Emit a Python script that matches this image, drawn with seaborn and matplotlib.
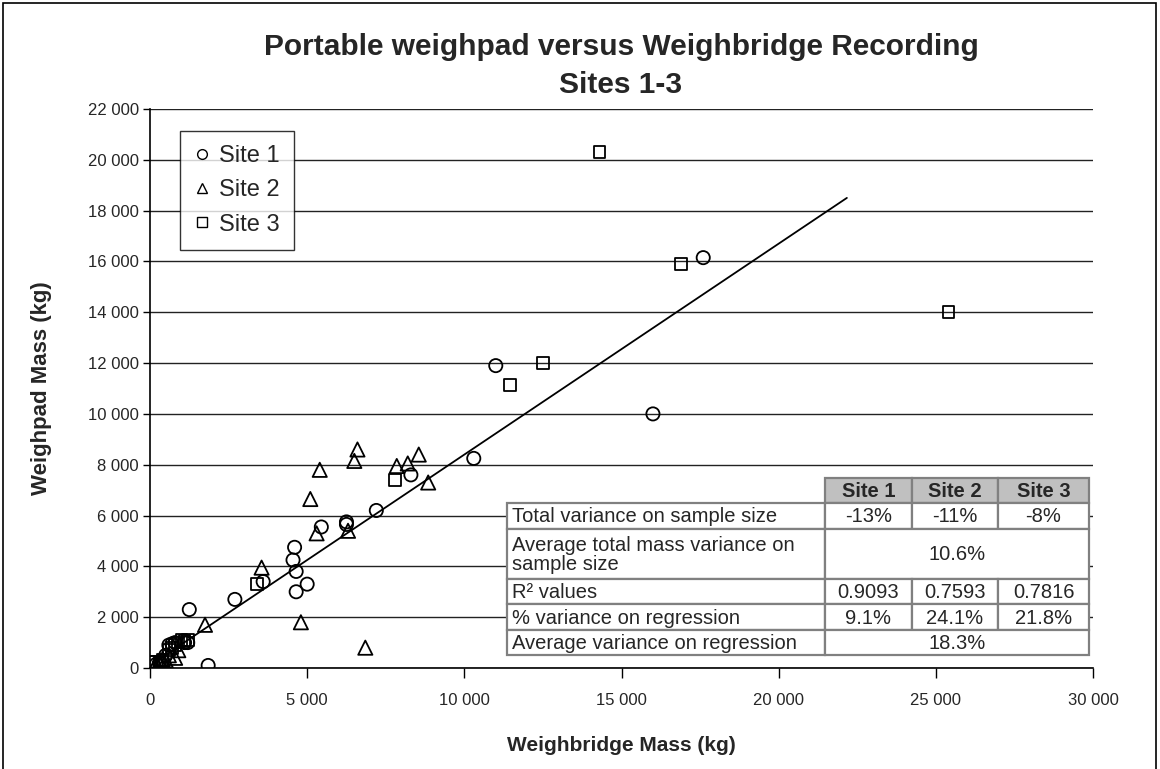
import numpy as np
import pandas as pd
import matplotlib
matplotlib.use("Agg")
import matplotlib.pyplot as plt
import seaborn as sns
from matplotlib.ticker import FuncFormatter, MultipleLocator
from matplotlib.patches import Rectangle
from matplotlib.lines import Line2D

# ---------------- data ----------------
site1_x = [17600, 11000, 16000, 10300, 8300, 7200, 5450, 6250, 6250, 4600, 4550, 4650,
           5000, 4650, 3600, 2700, 1250, 1850, 1200, 1100, 800, 700, 600, 500, 400, 300, 200]
site1_y = [16150, 11900, 10000, 8250, 7600, 6200, 5550, 5750, 5650, 4750, 4250, 3800,
           3300, 3000, 3400, 2700, 2300, 100, 1000, 1000, 1000, 950, 900, 500, 300, 200, 150]

site2_x = [6600, 6500, 5400, 5100, 7850, 8200, 8550, 8850, 5300, 6300, 3550, 1750, 4800,
           6850, 900, 800, 600, 500, 400, 300, 200]
site2_y = [8600, 8150, 7800, 6650, 7950, 8050, 8400, 7300, 5300, 5400, 3950, 1700, 1800,
           800, 700, 400, 500, 300, 350, 250, 200]

site3_x = [14300, 16900, 25400, 12500, 11450, 7800, 3400, 1200, 1100, 1000, 900, 800, 700,
           600, 400, 300, 100, 0]
site3_y = [20300, 15900, 14000, 12000, 11130, 7400, 3300, 1100, 1050, 1100, 1000, 900, 800,
           700, 300, 250, 250, 250]

site_names = ["Site 1", "Site 2", "Site 3"]
site_markers = ["o", "^", "s"]

trend_x = [150, 22170]
trend_slope = 0.83
trend_intercept = 100

title_lines = ["Portable weighpad versus Weighbridge Recording", "Sites 1-3"]
x_label = "Weighbridge Mass (kg)"
y_label = "Weighpad Mass (kg)"

table_header = ["Site 1", "Site 2", "Site 3"]
row_labels = ["Total variance on sample size",
              "Average total mass variance on\nsample size",
              "R\u00b2 values",
              "% variance on regression",
              "Average variance on regression"]
row_total_var = ["-13%", "-11%", "-8%"]
row_avg_total = "10.6%"
row_r2 = ["0.9093", "0.7593", "0.7816"]
row_pct_reg = ["9.1%", "24.1%", "21.8%"]
row_avg_reg = "18.3%"

# ---------------- build frame ----------------
df = pd.concat([
    pd.DataFrame({"x": site1_x, "y": site1_y, "site": "Site 1"}),
    pd.DataFrame({"x": site2_x, "y": site2_y, "site": "Site 2"}),
    pd.DataFrame({"x": site3_x, "y": site3_y, "site": "Site 3"}),
], ignore_index=True)

trend_df = pd.DataFrame({"x": trend_x,
                         "y": [trend_slope * v + trend_intercept for v in trend_x]})

# ---------------- style ----------------
sns.set_style("white")
plt.rcParams["font.family"] = ["Liberation Sans", "DejaVu Sans"]

W, H = 1160, 769
fig = plt.figure(figsize=(W / 100, H / 100), dpi=100)
fig.patch.set_facecolor("white")

ax_l, ax_r, ax_t, ax_b = 150, 1093, 109, 668
ax = fig.add_axes([ax_l / W, 1 - ax_b / H, (ax_r - ax_l) / W, (ax_b - ax_t) / H])

sizes = {"Site 1": 90, "Site 2": 105, "Site 3": 72}
for name, mk in zip(site_names, site_markers):
    sub = df[df["site"] == name]
    sns.scatterplot(data=sub, x="x", y="y", marker=mk, s=sizes[name],
                    facecolors="none", edgecolor="black", linewidth=1.3,
                    ax=ax, legend=False, zorder=3)

sns.lineplot(data=trend_df, x="x", y="y", color="black", linewidth=1.3,
             ax=ax, legend=False, zorder=2)

ax.set_xlim(0, 30000)
ax.set_ylim(0, 22000)
ax.xaxis.set_major_locator(MultipleLocator(5000))
ax.yaxis.set_major_locator(MultipleLocator(2000))
fmt = FuncFormatter(lambda v, p: f"{int(v):,}".replace(",", " "))
ax.xaxis.set_major_formatter(fmt)
ax.yaxis.set_major_formatter(fmt)

ax.grid(axis="y", color="#222222", linewidth=1.0)
ax.grid(axis="x", visible=False)
ax.set_axisbelow(True)
for s in ["top", "right"]:
    ax.spines[s].set_visible(False)
for s in ["left", "bottom"]:
    ax.spines[s].set_color("black")
    ax.spines[s].set_linewidth(1.2)

ax.tick_params(axis="x", direction="out", length=7, width=1, color="black",
               labelsize=12, pad=11, bottom=True)
ax.tick_params(axis="y", direction="out", length=5, width=1, color="black",
               labelsize=12, pad=3, left=True)

ax.set_xlabel(x_label, fontsize=15, fontweight="bold", labelpad=20)
ax.set_ylabel(y_label, fontsize=16, fontweight="bold", labelpad=26)

fig.text(621 / W, 1 - 47 / H, title_lines[0], ha="center", va="center",
         fontsize=21.5, fontweight="bold")
fig.text(621 / W, 1 - 85 / H, title_lines[1], ha="center", va="center",
         fontsize=21.5, fontweight="bold")

# legend
handles = [Line2D([], [], marker=m, linestyle="", markerfacecolor="none",
                  markeredgecolor="black", markersize=7, markeredgewidth=1)
           for m in site_markers]
leg = ax.legend(handles, site_names, loc="upper left",
                bbox_to_anchor=((180 - ax_l) / (ax_r - ax_l), (ax_b - 131) / (ax_b - ax_t)),
                borderaxespad=0, frameon=True, fancybox=False, fontsize=17,
                handlelength=0.7, handletextpad=0.35, labelspacing=0.52,
                borderpad=0.6)
leg.get_frame().set_edgecolor("black")
leg.get_frame().set_linewidth(1.0)

# ---------------- table ----------------
def fx(px):
    return px / W

def fy(py):
    return 1 - py / H

border = "#808080"
col_x = [507, 825, 912, 998, 1089]
row_y = [478, 503, 529, 579, 604, 630, 655]
tfs = 14.5

def cell(x0, y0, x1, y1, fill="white"):
    r = Rectangle((fx(x0), fy(y1)), fx(x1) - fx(x0), fy(y0) - fy(y1),
                  transform=fig.transFigure, facecolor=fill, edgecolor=border,
                  linewidth=1.6, zorder=10)
    fig.add_artist(r)

def ctext(xc, yc, s, bold=False):
    fig.text(fx(xc), fy(yc), s, ha="center", va="center", fontsize=tfs,
             fontweight="bold" if bold else "normal", zorder=11)

for i, h in enumerate(table_header):
    cell(col_x[i + 1], row_y[0], col_x[i + 2], row_y[1], fill="#c0c0c0")
    ctext((col_x[i + 1] + col_x[i + 2]) / 2, (row_y[0] + row_y[1]) / 2 + 1, h, bold=True)

rows_vals = [row_total_var, row_avg_total, row_r2, row_pct_reg, row_avg_reg]
for r, (lab, vals) in enumerate(zip(row_labels, rows_vals)):
    y0, y1 = row_y[r + 1], row_y[r + 2]
    cell(col_x[0], y0, col_x[1], y1)
    ym = (y0 + y1) / 2 + 1
    fig.text(fx(col_x[0] + 5), fy(ym), lab, ha="left", va="center", fontsize=tfs,
             linespacing=1.0, zorder=11)
    if isinstance(vals, str):
        cell(col_x[1], y0, col_x[4], y1)
        ctext((col_x[1] + col_x[4]) / 2, ym, vals)
    else:
        for i, v in enumerate(vals):
            cell(col_x[i + 1], y0, col_x[i + 2], y1)
            ctext((col_x[i + 1] + col_x[i + 2]) / 2, ym, v)

# chart border
fig.add_artist(Rectangle((3 / W, -0.05), (W - 7) / W, 1 - 3 / H + 0.05,
                         transform=fig.transFigure, fill=False,
                         edgecolor="black", linewidth=1.2, zorder=0))

fig.savefig("out.png", dpi=100, facecolor="white")
